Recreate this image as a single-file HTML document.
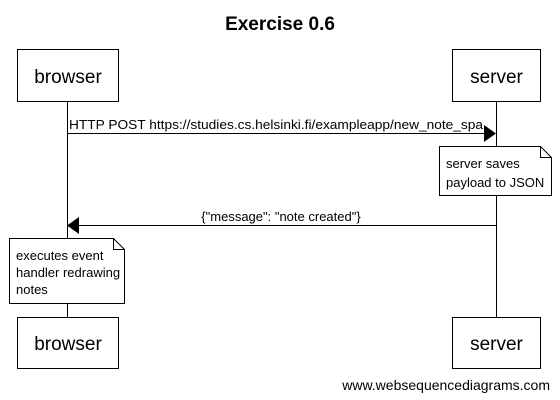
<!DOCTYPE html>
<html><head><style>body{margin:0;background:#fff}svg{display:block}text{font-family:"Liberation Sans",sans-serif;fill:#000}</style></head>
<body>
<svg width="560" height="400" xmlns="http://www.w3.org/2000/svg">
<text x="280" y="30" font-size="19" font-weight="bold" text-anchor="middle">Exercise 0.6</text>
<line x1="67.5" y1="101" x2="67.5" y2="317" stroke="#000"/>
<line x1="496.5" y1="101" x2="496.5" y2="317" stroke="#000"/>
<rect x="17.5" y="49.5" width="101" height="52" fill="#fff" stroke="#000"/>
<text x="68" y="83" font-size="19" text-anchor="middle">browser</text>
<rect x="452.5" y="49.5" width="88" height="52" fill="#fff" stroke="#000"/>
<text x="496.5" y="83" font-size="19" text-anchor="middle">server</text>
<rect x="17.5" y="317.5" width="101" height="51" fill="#fff" stroke="#000"/>
<text x="68" y="350" font-size="19" text-anchor="middle">browser</text>
<rect x="452.5" y="317.5" width="88" height="51" fill="#fff" stroke="#000"/>
<text x="496.5" y="350" font-size="19" text-anchor="middle">server</text>
<line x1="67.5" y1="133.5" x2="486" y2="133.5" stroke="#000"/>
<polygon points="484,125 496,133.5 484,142" fill="#000"/>
<text x="69" y="129" font-size="13" textLength="414" lengthAdjust="spacingAndGlyphs">HTTP POST https://studies.cs.helsinki.fi/exampleapp/new_note_spa</text>
<path d="M439.5 146.5 H540.5 L551.5 157.5 V195.5 H439.5 Z" fill="#fff" stroke="#000"/>
<path d="M540.5 146.5 V157.5 H551.5" fill="none" stroke="#000"/>
<text x="446" y="168" font-size="13">server saves</text>
<text x="446" y="187" font-size="13">payload to JSON</text>
<line x1="78" y1="225.5" x2="496.5" y2="225.5" stroke="#000"/>
<polygon points="79,217 67,225.5 79,234" fill="#000"/>
<text x="281" y="221" font-size="13" text-anchor="middle">{"message": "note created"}</text>
<path d="M9.5 238.5 H113.5 L124.5 249.5 V303.5 H9.5 Z" fill="#fff" stroke="#000"/>
<path d="M113.5 238.5 V249.5 H124.5" fill="none" stroke="#000"/>
<text x="16" y="260" font-size="13">executes event</text>
<text x="16" y="277" font-size="13">handler redrawing</text>
<text x="16" y="294" font-size="13">notes</text>
<text x="550" y="390" font-size="14" text-anchor="end">www.websequencediagrams.com</text>
</svg>
</body></html>
